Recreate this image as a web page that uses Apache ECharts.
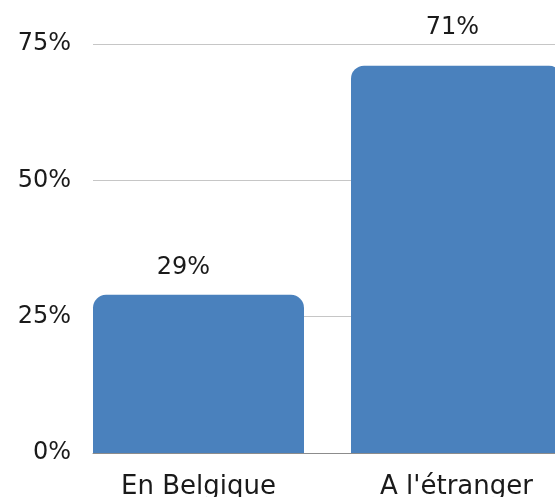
<!DOCTYPE html>
<html>
<head>
<meta charset="utf-8">
<script src="https://cdn.jsdelivr.net/npm/echarts@6/dist/echarts.min.js"></script>
<style>
html,body{margin:0;padding:0;background:#fff;}
#chart{width:555px;height:497px;}
</style>
</head>
<body>
<div id="chart"></div>
<script>
var categories = ["En Belgique", "A l'étranger"];
var values = [29, 71];
var labelGaps = [15, 26];
var labelShiftX = [-15, -4];
var yTicks = [0, 25, 50, 75];

var FONT = "DejaVu Sans";
var chart = echarts.init(document.getElementById('chart'), null, {renderer: 'canvas'});
var option = {
  animation: false,
  backgroundColor: '#ffffff',
  grid: [
    {left: 69.5, width: 516, top: 44, bottom: 44, outerBoundsMode: 'none', containLabel: false},
    {left: 93, right: 0, top: 44, bottom: 44, outerBoundsMode: 'none', containLabel: false}
  ],
  xAxis: [
    {
      gridIndex: 0, type: 'category', data: categories,
      axisLine: {show: false}, axisTick: {show: false},
      axisLabel: {margin: 21, fontFamily: FONT, fontSize: 26, color: '#1a1a1a'}
    },
    {
      gridIndex: 1, type: 'value', min: 0, max: 1,
      axisLine: {show: true, lineStyle: {color: '#8c8c8c', width: 1}},
      axisTick: {show: false}, axisLabel: {show: false}, splitLine: {show: false}
    }
  ],
  yAxis: [
    {
      gridIndex: 0, type: 'value', min: yTicks[0], max: yTicks[yTicks.length - 1], interval: 25,
      axisLine: {show: false}, axisTick: {show: false}, axisLabel: {show: false}, splitLine: {show: false}
    },
    {
      gridIndex: 1, type: 'value', min: yTicks[0], max: yTicks[yTicks.length - 1], interval: 25,
      axisLine: {show: false}, axisTick: {show: false},
      axisLabel: {margin: 22, formatter: '{value}%', fontFamily: FONT, fontSize: 24, color: '#1a1a1a'},
      splitLine: {show: true, lineStyle: {color: '#c6c6c6', width: 1}}
    }
  ],
  series: [{
    type: 'bar',
    xAxisIndex: 0, yAxisIndex: 0,
    barWidth: 211,
    z: 5,
    data: values.map(function (v, i) {
      return {value: v, label: {distance: labelGaps[i], offset: [labelShiftX[i], 0]}};
    }),
    itemStyle: {color: '#4a81bd', borderRadius: [13, 13, 0, 0]},
    label: {
      show: true, position: 'top', formatter: '{c}%',
      fontFamily: FONT, fontSize: 24, color: '#1a1a1a'
    }
  }]
};
chart.setOption(option);
</script>
</body>
</html>
